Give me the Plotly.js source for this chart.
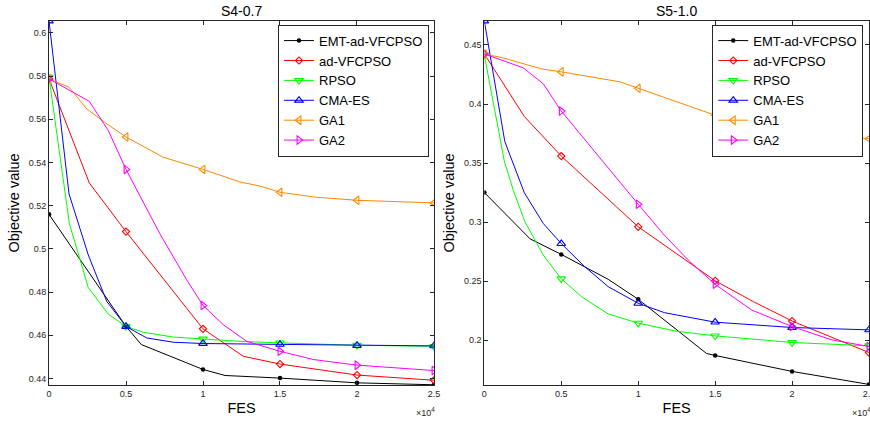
<!DOCTYPE html>
<html>
<head>
<meta charset="utf-8">
<script src="https://cdn.plot.ly/plotly-3.0.1.min.js"></script>
<style>html,body{margin:0;padding:0;background:#fff;}#chart{width:870px;height:421px;}</style>
</head>
<body>
<div id="chart"></div>
<script>
// ---------- Data (FES, objective value) ----------
const seriesNames = ["EMT-ad-VFCPSO", "ad-VFCPSO", "RPSO", "CMA-ES", "GA1", "GA2"];
const xTickVals = [0, 5000, 10000, 15000, 20000, 25000];
const xTickText = ["0", "0.5", "1", "1.5", "2", "2.5"];

// S4-0.7 (left panel)
const s4EmtX = [0, 5000, 6000, 10000, 11430, 15000, 20000, 25000];
const s4EmtY = [0.5160, 0.4641, 0.4557, 0.4442, 0.4414, 0.4402, 0.4380, 0.4371];
const s4AdX = [0, 2620, 5000, 10000, 12620, 15000, 20000, 25000];
const s4AdY = [0.5787, 0.5305, 0.5080, 0.4630, 0.4503, 0.4467, 0.4416, 0.4392];
const s4RpsoX = [0, 1320, 2550, 3850, 5000, 6120, 8070, 10000, 12400, 15000, 20000, 25000];
const s4RpsoY = [0.5795, 0.5118, 0.4821, 0.4698, 0.4641, 0.4614, 0.4592, 0.4583, 0.4572, 0.4565, 0.4554, 0.4549];
const s4CmaX = [0, 1300, 2550, 3750, 5000, 6340, 8070, 10000, 15000, 20000, 25000];
const s4CmaY = [0.6055, 0.5255, 0.4972, 0.4757, 0.4641, 0.4588, 0.4568, 0.4562, 0.4558, 0.4553, 0.4551];
const s4Ga1X = [0, 1320, 2450, 3750, 5000, 7400, 10000, 12400, 13700, 15000, 17380, 20000, 25000];
const s4Ga1Y = [0.5787, 0.5748, 0.5648, 0.5579, 0.5518, 0.5425, 0.5368, 0.5310, 0.5291, 0.5262, 0.5239, 0.5225, 0.5213];
const s4Ga2X = [0, 2620, 3850, 5000, 7200, 8940, 10000, 11320, 12840, 15000, 17160, 20000, 25000];
const s4Ga2Y = [0.5787, 0.5683, 0.5548, 0.5368, 0.5070, 0.4857, 0.4738, 0.4649, 0.4572, 0.4526, 0.4488, 0.4462, 0.4437];

// S5-1.0 (right panel)
const s5EmtX = [0, 2970, 5000, 8050, 10000, 14440, 15000, 20000, 25000];
const s5EmtY = [0.3250, 0.2858, 0.2726, 0.2515, 0.2346, 0.1887, 0.1870, 0.1735, 0.1625];
const s5AdX = [0, 2600, 5000, 10000, 15000, 17500, 20000, 25000];
const s5AdY = [0.4424, 0.3894, 0.3559, 0.2960, 0.2503, 0.2325, 0.2162, 0.1895];
const s5RpsoX = [0, 1300, 1880, 2640, 3830, 5000, 6320, 8050, 10000, 12500, 15000, 20000, 25000];
const s5RpsoY = [0.4415, 0.3515, 0.3270, 0.3002, 0.2720, 0.2520, 0.2368, 0.2222, 0.2144, 0.2075, 0.2036, 0.1980, 0.1952];
const s5CmaX = [0, 1330, 2600, 3830, 5000, 6500, 8050, 10000, 11700, 15000, 20000, 25000];
const s5CmaY = [0.4703, 0.3682, 0.3248, 0.2988, 0.2818, 0.2625, 0.2453, 0.2312, 0.2233, 0.2152, 0.2107, 0.2087];
const s5Ga1X = [0, 1230, 3730, 5000, 8810, 10000, 15000, 17500, 20000, 25000];
const s5Ga1Y = [0.4424, 0.4390, 0.4297, 0.4272, 0.4188, 0.4133, 0.3905, 0.3820, 0.3768, 0.3706];
const s5Ga2X = [0, 2530, 3830, 5000, 10000, 11700, 13360, 15000, 17360, 20000, 22560, 25000];
const s5Ga2Y = [0.4424, 0.4306, 0.4171, 0.3940, 0.3151, 0.2889, 0.2664, 0.2473, 0.2256, 0.2115, 0.2003, 0.1946];

// ---------- Styles ----------
const styles = [
  {color: "#000000", symbol: "circle", size: 4.5},
  {color: "#ff0000", symbol: "diamond-open", size: 5.5},
  {color: "#00ff00", symbol: "triangle-down-open", size: 7.5},
  {color: "#0000ff", symbol: "triangle-up-open", size: 7.5},
  {color: "#ff8800", symbol: "triangle-left-open", size: 7.5},
  {color: "#ff00ff", symbol: "triangle-right-open", size: 7.5}
];

const FONT = "Liberation Sans, Arial, Helvetica, sans-serif";
const AX = "#262626";

function mkTrace(i, xs, ys, xa, ya, legendId) {
  const st = styles[i];
  const mcol = xs.map(v => (v % 5000 === 0) ? st.color : "rgba(0,0,0,0)");
  return {
    type: "scatter", mode: "lines+markers",
    name: seriesNames[i], x: xs, y: ys, xaxis: xa, yaxis: ya,
    legend: legendId,
    line: {color: st.color, width: 1},
    marker: {symbol: st.symbol, size: st.size, color: mcol, line: {width: st.symbol === "circle" ? 0 : 1.1}},
    hoverinfo: "skip"
  };
}

const left = [[s4EmtX, s4EmtY], [s4AdX, s4AdY], [s4RpsoX, s4RpsoY], [s4CmaX, s4CmaY], [s4Ga1X, s4Ga1Y], [s4Ga2X, s4Ga2Y]];
const right = [[s5EmtX, s5EmtY], [s5AdX, s5AdY], [s5RpsoX, s5RpsoY], [s5CmaX, s5CmaY], [s5Ga1X, s5Ga1Y], [s5Ga2X, s5Ga2Y]];

const traces = [];
left.forEach((d, i) => traces.push(mkTrace(i, d[0], d[1], "x", "y", "legend")));
right.forEach((d, i) => traces.push(mkTrace(i, d[0], d[1], "x2", "y2", "legend2")));

function xAxis(domain, anchor) {
  return {
    domain: domain, anchor: anchor, range: [0, 25000],
    tickvals: xTickVals, ticktext: xTickText,
    ticks: "inside", ticklen: 4, tickwidth: 1, tickcolor: AX,
    showline: true, linecolor: AX, linewidth: 1, mirror: "ticks",
    showgrid: false, zeroline: false, ticklabeloverflow: "allow",
    tickfont: {family: FONT, size: 9, color: AX},
    title: {text: "FES", font: {family: FONT, size: 14.5, color: "#000"}, standoff: 5}
  };
}
function yAxis(range, dtick, anchor) {
  return {
    anchor: anchor, domain: [0, 1], range: range, dtick: dtick, tick0: 0,
    ticks: "inside", ticklen: 4, tickwidth: 1, tickcolor: AX,
    showline: true, linecolor: AX, linewidth: 1, mirror: "ticks",
    showgrid: false, zeroline: false,
    tickfont: {family: FONT, size: 9, color: AX},
    title: {text: "Objective value", font: {family: FONT, size: 14.5, color: "#000"}, standoff: 5}
  };
}

const legendBase = {
  yanchor: "top", xanchor: "right", y: 0.99,
  bgcolor: "#ffffff", bordercolor: AX, borderwidth: 1,
  font: {family: FONT, size: 13, color: "#000"},
  itemwidth: 30, tracegroupgap: 0
};

const layout = {
  width: 870, height: 421,
  margin: {l: 49, r: 1, t: 21, b: 36, pad: 0},
  paper_bgcolor: "#ffffff", plot_bgcolor: "#ffffff",
  font: {family: FONT, color: "#000"},
  showlegend: true,
  xaxis: xAxis([0, 0.4695], "y"),
  yaxis: yAxis([0.4370, 0.6055], 0.02, "x"),
  xaxis2: xAxis([0.5309, 1], "y2"),
  yaxis2: yAxis([0.1620, 0.4703], 0.05, "x2"),
  legend: Object.assign({}, legendBase, {x: 0.4634}),
  legend2: Object.assign({}, legendBase, {x: 0.993}),
  annotations: [
    {text: "S4-0.7", xref: "x domain", yref: "paper", x: 0.5, y: 1, xanchor: "center", yanchor: "bottom", showarrow: false, font: {family: FONT, size: 14, color: "#000"}},
    {text: "S5-1.0", xref: "x2 domain", yref: "paper", x: 0.5, y: 1, xanchor: "center", yanchor: "bottom", showarrow: false, font: {family: FONT, size: 14, color: "#000"}},
    {text: "\u00d710<sup>4</sup>", xref: "x domain", yref: "paper", x: 1, y: 0, xanchor: "right", yanchor: "top", yshift: -19, xshift: 3, showarrow: false, font: {family: FONT, size: 9, color: AX}},
    {text: "\u00d710<sup>4</sup>", xref: "x2 domain", yref: "paper", x: 1, y: 0, xanchor: "left", yanchor: "top", yshift: -19, xshift: -19, showarrow: false, font: {family: FONT, size: 9, color: AX}}
  ]
};

Plotly.newPlot("chart", traces, layout, {staticPlot: true, displayModeBar: false});
</script>
</body>
</html>
